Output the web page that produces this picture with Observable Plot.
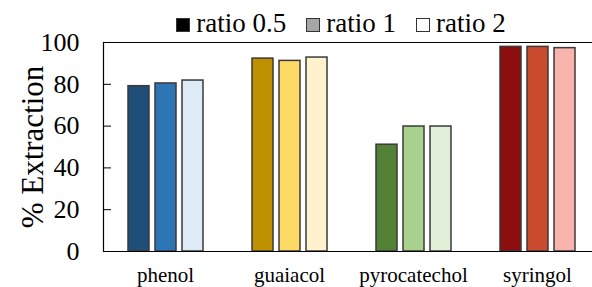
<!DOCTYPE html>
<html>
<head>
<meta charset="utf-8">
<script src="https://cdn.jsdelivr.net/npm/d3@7"></script>
<script src="https://cdn.jsdelivr.net/npm/@observablehq/plot@0.6"></script>
<style>
  body { margin: 0; background: #fff; color: #000; font-family: "Liberation Serif", "Times New Roman", serif; }
  #legend { position: relative; z-index: 1; height: 40px; box-sizing: border-box; padding-top: 10px; padding-left: 90px; display: flex; justify-content: center; font-size: 27px; line-height: 27px; white-space: nowrap; }
  .item { margin-left: 20px; }
  .item:first-child { margin-left: 0; }
  .sw { display: inline-block; width: 12px; height: 12px; border: 1px solid #333; vertical-align: baseline; margin-right: 6px; }
  #chart { margin-top: -20px; }
  #chart svg text { font-family: "Liberation Serif", "Times New Roman", serif; }
</style>
</head>
<body>
<div id="legend"></div>
<div id="chart"></div>
<script>
const categories = ["phenol", "guaiacol", "pyrocatechol", "syringol"];
const series = ["ratio 0.5", "ratio 1", "ratio 2"];
const ratio05 = [79.1, 92.3, 51.1, 97.9];
const ratio1 = [80.4, 91.2, 59.8, 97.9];
const ratio2 = [81.8, 92.8, 59.8, 97.3];
const yTicks = [0, 20, 40, 60, 80, 100];
const yLabel = "% Extraction";

// styles
const barColors = {
  phenol: ["#1f4e79", "#2e75b6", "#deebf7"],
  guaiacol: ["#bf9000", "#ffd966", "#fff2cc"],
  pyrocatechol: ["#538135", "#a9d18e", "#e2f0d9"],
  syringol: ["#8c0e0e", "#c84b2d", "#f9b4ad"]
};
const legendColors = ["#000000", "#a6a6a6", "#ffffff"];

const valuesBySeries = [ratio05, ratio1, ratio2];
const data = [];
categories.forEach((c, i) => {
  series.forEach((s, j) => {
    data.push({category: c, series: s, value: valuesBySeries[j][i], key: c + "|" + s});
  });
});
const keys = data.map(d => d.key);
const keyColors = data.map(d => barColors[d.category][series.indexOf(d.series)]);

// legend
const legend = document.getElementById("legend");
series.forEach((s, j) => {
  const item = document.createElement("span");
  item.className = "item";
  const sw = document.createElement("span");
  sw.className = "sw";
  sw.style.background = legendColors[j];
  item.appendChild(sw);
  item.appendChild(document.createTextNode(s));
  legend.appendChild(item);
});

const chart = Plot.plot({
  width: 592,
  height: 267,
  marginTop: 22,
  marginBottom: 36,
  marginLeft: 102,
  marginRight: 0,
  style: {fontSize: "26px", color: "#000", background: "none", overflow: "hidden"},
  fx: {domain: categories, range: [102, 600], padding: 0},
  x: {domain: series, paddingInner: 0.24, paddingOuter: 0.88, axis: null},
  y: {domain: [0, 100]},
  color: {type: "ordinal", domain: keys, range: keyColors},
  marks: [
    Plot.barY(data, {fx: "category", x: "series", y: "value", fill: "key", stroke: "#3a3a3a", strokeWidth: 1.5}),
    Plot.ruleY([0, 100], {stroke: "#000", strokeWidth: 1.2}),
    Plot.frame({anchor: "left", facetAnchor: "left", stroke: "#000", strokeWidth: 1.2}),
    Plot.axisY({ticks: yTicks, tickSize: -8, tickPadding: 32, fontSize: 26, label: null, stroke: "#000"}),
    Plot.axisFx({anchor: "bottom", tickSize: 0, tickPadding: 16, fontSize: 21, label: null}),
    Plot.text([yLabel], {frameAnchor: "left", dx: -70, rotate: -90, textAnchor: "middle", fontSize: 31, facetAnchor: "left", fill: "#000"})
  ]
});
document.getElementById("chart").appendChild(chart);
</script>
</body>
</html>
